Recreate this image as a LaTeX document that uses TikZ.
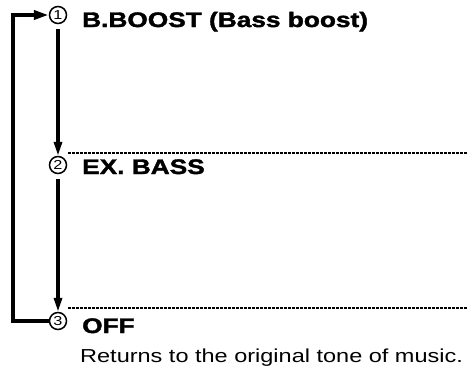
\documentclass[tikz,border=0pt]{standalone}
\usepackage{fontspec}
\setmainfont[FakeStretch=1.25, BoldFeatures={FakeBold=1.8}]{Liberation Sans}
\usetikzlibrary{positioning,arrows.meta}

\begin{document}
\begin{tikzpicture}[x=1pt,y=-1pt,
  num/.style={circle, draw, line width=1.5pt, minimum size=17pt, inner sep=0pt, font=\fontsize{13}{13}\selectfont},
  item/.style={anchor=base west, inner sep=0pt, font=\fontsize{21}{24}\selectfont\bfseries},
  note/.style={anchor=base west, inner sep=0pt, font=\fontsize{18.8}{22}\selectfont},
  flow/.style={line width=3.2pt, -{Triangle[length=14pt,width=8pt]}},
  guide/.style={line width=1.4pt, dash pattern=on 2.5pt off 1.5pt}]
\useasboundingbox (0,0) rectangle (468,370);
\node[num] (n1) at (58,15) {1};
\node[num] (n2) at (58,165) {2};
\node[num] (n3) at (58,321) {3};
\node[item] (boost) at (82,27) {B.BOOST (Bass boost)};
\node[item] (exbass) at (82,174) {EX. BASS};
\node[item] (off) at (82,333) {OFF};
\node[note] (back) at (80,362) {Returns to the original tone of music.};
\coordinate (g1a) at (68,153);
\coordinate (g1b) at (468,153);
\coordinate (g2a) at (68,308);
\coordinate (g2b) at (468,308);
\coordinate (corner) at (13,321);
\draw[guide] (g1a) -- (g1b);
\draw[guide] (g2a) -- (g2b);
\draw[flow, shorten <=5pt] (n1) -- (n2);
\draw[flow, shorten <=5pt] (n2) -- (n3);
\draw[line width=4pt, -{Triangle[length=15pt,width=9pt]}] (n3.west) -- (corner) |- (n1.west);
\end{tikzpicture}
\end{document}
